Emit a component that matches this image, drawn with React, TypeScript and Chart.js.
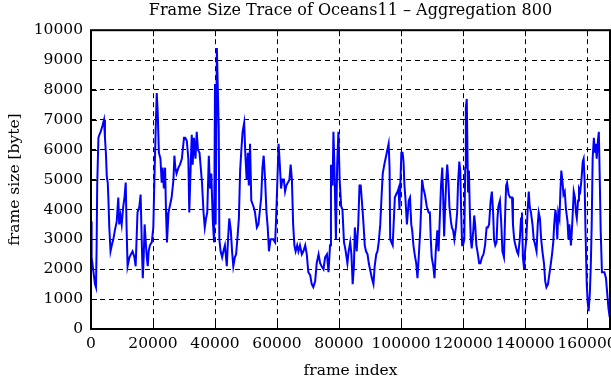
import React, { useEffect, useRef } from "react";
import { Chart, registerables } from "chart.js";

Chart.register(...registerables);

const chartTitle = "Frame Size Trace of Oceans11 \u2013 Aggregation 800";
const xAxisTitle = "frame index";
const yAxisTitle = "frame size [byte]";
const xMin = 0;
const xMax = 167400;
const xTickValues = [0, 20000, 40000, 60000, 80000, 100000, 120000, 140000, 160000];
const yMin = 0;
const yMax = 10000;
const yStep = 1000;

const frameIndex = [
  0, 200, 800, 1300, 1600, 1800, 2000, 2400, 2700, 3100, 3700, 4200, 4500, 4800, 5100, 5400, 5600, 5900, 6300, 6700,
  7200, 7700, 8300, 8800, 9100, 9500, 9900, 10400, 10800, 11200, 11500, 11800, 12400, 12900, 13400, 14000, 14400, 15000, 15600, 16000,
  16400, 16700, 17000, 17300, 17600, 18000, 18300, 18600, 19000, 19600, 20100, 20400, 20900, 21200, 21500, 21900, 22400, 22800, 23100, 23500,
  23900, 24200, 24500, 25000, 26000, 26600, 26900, 27200, 27600, 28200, 28700, 29300, 29600, 30000, 30400, 30900, 31400, 31700, 32200, 32500,
  32800, 33200, 33700, 34100, 34500, 35000, 35400, 35800, 36300, 36700, 37100, 37500, 38000, 38400, 38800, 39300, 39700, 40000, 40200, 40600,
  41200, 41400, 41800, 42300, 42700, 43200, 43800, 44200, 44600, 45100, 45500, 45900, 46400, 46800, 47200, 47700, 48100, 48500, 48900, 49400,
  49800, 50200, 50600, 50900, 51300, 51700, 52400, 52900, 53500, 54000, 54900, 55300, 55700, 56200, 56600, 57000, 57400, 57900, 58300, 58800,
  59400, 59700, 60000, 60500, 60900, 61300, 61700, 62200, 62600, 63000, 63500, 64000, 64400, 64800, 65200, 65600, 66000, 66500, 66900, 67400,
  68000, 68500, 69100, 69600, 70100, 70700, 71200, 71700, 72300, 72800, 73400, 73900, 74400, 75000, 75500, 76100, 76600, 77100, 77400, 77900,
  78200, 78500, 79000, 79400, 79800, 80200, 80700, 81100, 81600, 82000, 82300, 82700, 83100, 83600, 84000, 84400, 84800, 85100, 85400, 85700,
  86200, 86600, 87000, 87500, 87900, 88300, 88700, 89200, 89600, 90000, 90600, 91100, 91500, 92000, 92400, 92800, 93300, 93700, 94100, 94600,
  95000, 95400, 96000, 96300, 96500, 96900, 97300, 97700, 98000, 98400, 98900, 99200, 99500, 99800, 100100, 100500, 100800, 101100, 101400, 101900,
  102200, 102500, 102900, 103300, 103600, 104000, 104400, 104900, 105300, 105700, 106200, 106500, 106800, 107200, 107700, 108300, 108900, 109300, 109600, 109900,
  110400, 110800, 111200, 111700, 112100, 112500, 112900, 113300, 113600, 113900, 114200, 114600, 114900, 115300, 115600, 116100, 116400, 116800, 117200, 117700,
  118100, 118400, 118800, 119100, 119400, 119700, 120000, 120400, 120700, 120900, 121200, 121600, 121900, 122200, 122500, 122800, 123300, 123600, 123900, 124300,
  124800, 125200, 125600, 126100, 126600, 127100, 127600, 128000, 128400, 128900, 129300, 129700, 130000, 130400, 130800, 131100, 131400, 131900, 132300, 132700,
  133200, 133600, 133900, 134200, 134700, 135200, 135800, 136100, 136500, 136900, 137400, 137800, 138300, 138700, 139000, 139300, 139700, 140000, 140400, 140900,
  141200, 141500, 141900, 142400, 142800, 143300, 143700, 144100, 144400, 144800, 145200, 145600, 146100, 146500, 146900, 147400, 147800, 148200, 148700, 149100,
  149400, 149800, 150100, 150400, 150700, 151100, 151400, 151700, 152100, 152400, 152800, 153200, 153700, 154000, 154300, 154800, 155100, 155400, 155700, 156100,
  156400, 156700, 157100, 157400, 157800, 158200, 158600, 158900, 159200, 159500, 159900, 160200, 160500, 160900, 161200, 161500, 161800, 162200, 162500, 162800,
  163100, 163500, 163800, 164100, 164400, 164800, 165200, 165600, 166100, 166500, 166900, 167300,
];

const frameSize = [
  3600, 2400, 1900, 1500, 1400, 2600, 4800, 6400, 6500, 6600, 6800, 7000, 6400, 5900, 5100, 4900, 4400, 3400, 2600, 2800,
  3000, 3300, 3600, 4400, 3500, 3800, 3500, 4100, 4400, 4900, 3300, 2100, 2400, 2500, 2600, 2400, 2100, 3900, 4100, 4500,
  2800, 1700, 2400, 3500, 3000, 2400, 2100, 2600, 2800, 2900, 3400, 4800, 6800, 7900, 7300, 5900, 5700, 4900, 5400, 4700,
  5400, 3900, 2900, 3900, 4400, 5000, 5800, 5400, 5200, 5400, 5500, 5700, 6000, 6400, 6400, 6300, 5700, 3900, 5600, 6500,
  5500, 6400, 5700, 6600, 6000, 5900, 5400, 4900, 3900, 3400, 3700, 3900, 5800, 4700, 5200, 3600, 2900, 8200, 3500, 9400,
  6700, 3000, 2600, 2400, 2600, 2800, 2100, 3000, 3700, 3300, 2600, 2100, 2400, 2500, 3000, 3700, 5300, 6000, 6600, 6900,
  5800, 5000, 5900, 4800, 6200, 4300, 4100, 3900, 3400, 3500, 4400, 5400, 5800, 4900, 3900, 3400, 2600, 3000, 3000, 3000,
  2900, 3700, 4600, 6200, 5500, 4700, 5000, 5000, 4600, 4800, 4900, 5000, 5500, 5000, 3500, 2800, 2600, 2800, 2600, 2800,
  2500, 2600, 2800, 2500, 1900, 1800, 1500, 1400, 1600, 2200, 2500, 2200, 2100, 2000, 2400, 2500, 1900, 2800, 5500, 4800,
  6600, 5500, 3000, 5500, 6600, 5000, 4100, 4000, 2900, 2700, 2500, 2200, 2600, 2900, 2500, 1500, 2100, 3400, 3000, 2600,
  3500, 4800, 4800, 4100, 3500, 2800, 2600, 2500, 2200, 2000, 1700, 1500, 2100, 2500, 2600, 2900, 3500, 4400, 5200, 5500,
  5700, 5900, 6200, 5400, 3000, 2900, 2800, 3700, 4400, 4500, 4600, 4700, 4000, 4900, 5900, 5900, 5600, 4800, 4400, 3500,
  3900, 4300, 4400, 3500, 3300, 2800, 2500, 2200, 1700, 2400, 3300, 4100, 5000, 4700, 4500, 4100, 3900, 3900, 3000, 2400,
  2100, 1700, 2600, 3300, 2600, 3700, 4800, 5400, 4400, 3100, 4000, 5000, 5500, 4900, 4100, 3600, 3400, 3300, 3000, 3400,
  3900, 4900, 5600, 5300, 3900, 2800, 2800, 3000, 5400, 7400, 7700, 4600, 5300, 3900, 3000, 2700, 3300, 3800, 3500, 2800,
  2500, 2200, 2200, 2400, 2500, 2800, 3400, 3400, 3500, 4300, 4600, 3900, 3000, 2800, 2900, 3700, 4100, 4300, 3600, 2600,
  2400, 3900, 4800, 4900, 4500, 4400, 4400, 3500, 3000, 2800, 2600, 2500, 3000, 3700, 3900, 2400, 2000, 2600, 3000, 4100,
  4600, 4100, 3900, 3500, 3000, 2800, 2600, 3500, 3900, 3700, 3000, 2600, 2200, 1600, 1400, 1500, 1800, 2100, 2500, 2900,
  3500, 4000, 3700, 3000, 3900, 3700, 4600, 5300, 4900, 4500, 4600, 4000, 3600, 3000, 3500, 2800, 3300, 3900, 4600, 4400,
  3900, 3700, 4300, 4700, 4600, 5000, 5600, 5700, 5000, 3300, 1500, 900, 600, 1200, 2100, 3500, 5700, 6400, 5900, 6200,
  5700, 6300, 6600, 5000, 3300, 1900, 1900, 1900, 1700, 1200, 700, 400,
];

const FONT = "'DejaVu Serif', serif";

const gnuplotFrame = {
  id: "gnuplotFrame",
  afterDatasetsDraw(chart: any) {
    const { ctx, chartArea: a, scales } = chart;
    const len = 6;
    ctx.save();
    ctx.setLineDash([]);
    ctx.strokeStyle = "#000";
    ctx.lineWidth = 1;
    ctx.beginPath();
    scales.x.ticks.forEach((t: any) => {
      const px = Math.round(scales.x.getPixelForValue(t.value)) + 0.5;
      ctx.moveTo(px, a.bottom);
      ctx.lineTo(px, a.bottom - len);
      ctx.moveTo(px, a.top);
      ctx.lineTo(px, a.top + len);
    });
    scales.y.ticks.forEach((t: any) => {
      const py = Math.round(scales.y.getPixelForValue(t.value)) + 0.5;
      ctx.moveTo(a.left, py);
      ctx.lineTo(a.left + len, py);
      ctx.moveTo(a.right, py);
      ctx.lineTo(a.right - len, py);
    });
    ctx.stroke();
    ctx.lineWidth = 2;
    ctx.strokeRect(a.left, a.top, a.right - a.left, a.bottom - a.top);
    ctx.restore();
  },
};

export default function App() {
  const canvasRef = useRef<HTMLCanvasElement | null>(null);

  useEffect(() => {
    const canvas = canvasRef.current;
    if (!canvas) return;
    Chart.defaults.font.family = FONT;
    Chart.defaults.color = "#000";
    const points = frameIndex.map((f, i) => ({ x: f, y: frameSize[i] }));
    const chart = new Chart(canvas, {
      type: "line",
      data: {
        datasets: [
          {
            data: points,
            borderColor: "#0000ff",
            borderWidth: 2,
            pointRadius: 0,
            tension: 0,
            fill: false,
          },
        ],
      },
      options: {
        animation: false,
        responsive: false,
        devicePixelRatio: 1,
        layout: { padding: { left: 0, right: 1, top: 0, bottom: 0 } },
        plugins: {
          legend: { display: false },
          tooltip: { enabled: false },
          title: {
            display: true,
            text: chartTitle,
            fullSize: false,
            color: "#000",
            font: { family: FONT, size: 16, weight: "normal" },
            padding: { top: 1, bottom: 10 },
          },
        },
        scales: {
          x: {
            type: "linear",
            min: xMin,
            max: xMax,
            ticks: {
              autoSkip: false,
              maxRotation: 0,
              padding: 6,
              color: "#000",
              font: { family: FONT, size: 15.5 },
              callback: (v: any) => String(v),
            },
            afterBuildTicks: (scale: any) => {
              scale.ticks = xTickValues.map((v) => ({ value: v }));
            },
            afterFit: (scale: any) => {
              scale.height = 51;
              scale.paddingLeft = 0;
              scale.paddingRight = 0;
            },
            grid: { color: "#000", lineWidth: 1, drawTicks: false },
            border: { display: false, dash: [5, 4] },
            title: {
              display: true,
              text: xAxisTitle,
              color: "#000",
              font: { family: FONT, size: 15.5 },
              padding: { top: 0, bottom: 0 },
            },
          },
          y: {
            type: "linear",
            min: yMin,
            max: yMax,
            ticks: {
              stepSize: yStep,
              padding: 8,
              color: "#000",
              font: { family: FONT, size: 15.5 },
              callback: (v: any) => String(v),
            },
            afterFit: (scale: any) => {
              scale.width = 91;
              scale.paddingTop = 0;
              scale.paddingBottom = 0;
            },
            grid: { color: "#000", lineWidth: 1, drawTicks: false },
            border: { display: false, dash: [5, 4] },
            title: {
              display: true,
              text: yAxisTitle,
              color: "#000",
              font: { family: FONT, size: 15.5 },
              padding: { top: 6, bottom: 0 },
            },
          },
        },
      },
      plugins: [gnuplotFrame],
    });
    return () => chart.destroy();
  }, []);

  return (
    <div style={{ position: "fixed", left: 0, top: 0, width: 611, height: 380, background: "#fff" }}>
      <canvas ref={canvasRef} width={611} height={380} />
    </div>
  );
}
